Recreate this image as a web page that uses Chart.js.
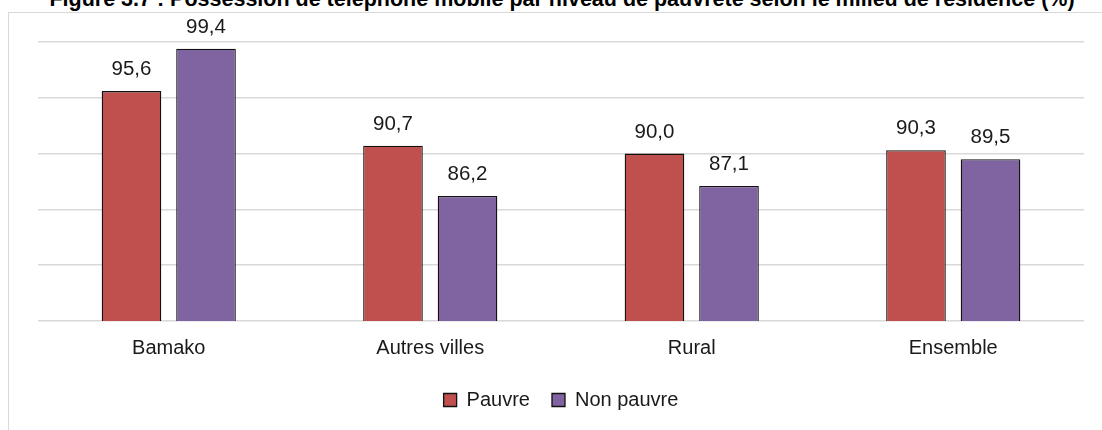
<!DOCTYPE html>
<html>
<head>
<meta charset="utf-8">
<script src="https://cdn.jsdelivr.net/npm/chart.js@4/dist/chart.umd.min.js"></script>
<style>
  html, body { margin: 0; padding: 0; background: #fff; }
  #wrap { position: relative; width: 1102px; height: 430px; overflow: hidden; }
  #frame { position: absolute; left: 8px; top: 12px; right: -10px; bottom: -10px;
           border-left: 1.5px solid #d9d9d9; border-top: 1.5px solid #d9d9d9; }
  #title { position: absolute; left: 0; top: -11px; width: 1124px; text-align: center;
           font: bold 21.5px "Liberation Sans", Arial, sans-serif;
           line-height: 21.5px; color: #000; white-space: nowrap; }
  #chartBox { position: absolute; left: 0; top: 0; width: 1102px; height: 430px; }
</style>
</head>
<body>
<div id="wrap">
  <div id="frame"></div>
  <div id="title">Figure 3.7 : Possession de téléphone mobile par niveau de pauvreté selon le milieu de résidence (%)</div>
  <div id="chartBox"><canvas id="chart"></canvas></div>
</div>
<script>
// values
const milieux = ['Bamako', 'Autres villes', 'Rural', 'Ensemble'];
const pauvre = [95.6, 90.7, 90.0, 90.3];
const nonPauvre = [99.4, 86.2, 87.1, 89.5];
const yTicks = [75, 80, 85, 90, 95, 100];

const FONT = '"Liberation Sans", Arial, sans-serif';

// draws the value above every bar (comma as decimal mark)
const valueLabels = {
    id: 'valueLabels',
    afterDatasetsDraw(chart) {
        const ctx = chart.ctx;
        ctx.save();
        ctx.font = '20.5px ' + FONT;
        ctx.fillStyle = '#1a1a1a';
        ctx.textAlign = 'center';
        ctx.textBaseline = 'alphabetic';
        chart.data.datasets.forEach((ds, i) => {
            chart.getDatasetMeta(i).data.forEach((bar, j) => {
                const txt = ds.data[j].toFixed(1).replace('.', ',');
                ctx.fillText(txt, bar.x, bar.y - 16);
            });
        });
        ctx.restore();
    }
};

new Chart(document.getElementById('chart'), {
    type: 'bar',
    data: {
        labels: milieux,
        datasets: [
            {
                label: 'Pauvre',
                data: pauvre,
                backgroundColor: '#c0504d',
                borderColor: '#111',
                borderWidth: 1.3,
                categoryPercentage: 0.57,
                barPercentage: 0.8
            },
            {
                label: 'Non pauvre',
                data: nonPauvre,
                backgroundColor: '#8064a2',
                borderColor: '#111',
                borderWidth: 1.3,
                categoryPercentage: 0.57,
                barPercentage: 0.8
            }
        ]
    },
    options: {
        responsive: true,
        maintainAspectRatio: false,
        animation: false,
        layout: { padding: { left: 38, right: 18, top: 42, bottom: 10 } },
        scales: {
            x: {
                grid: { display: false, drawTicks: false },
                border: { display: false },
                ticks: { color: '#1a1a1a', font: { family: FONT, size: 20 }, padding: 15 },
                afterFit: (axis) => { axis.height = 47; }
            },
            y: {
                min: yTicks[0],
                max: yTicks[yTicks.length - 1],
                afterBuildTicks: (axis) => { axis.ticks = yTicks.map(v => ({ value: v })); },
                grid: { color: '#d9d9d9', lineWidth: 1.5, drawTicks: false },
                border: { display: false },
                ticks: { display: false }
            }
        },
        plugins: {
            legend: {
                position: 'bottom',
                labels: {
                    boxWidth: 13,
                    boxHeight: 13,
                    padding: 22,
                    color: '#1a1a1a',
                    font: { family: FONT, size: 20 }
                }
            },
            tooltip: { enabled: false }
        }
    },
    plugins: [valueLabels]
});
</script>
</body>
</html>
